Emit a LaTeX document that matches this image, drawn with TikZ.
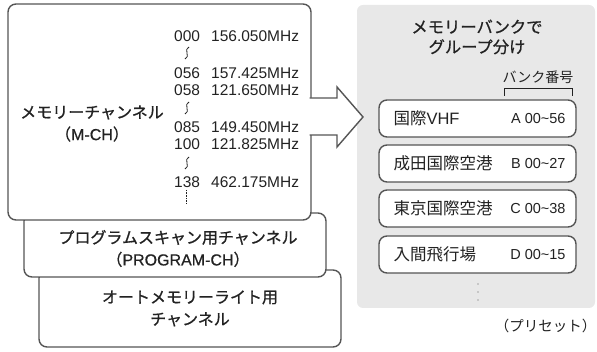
\documentclass[tikz,border=0pt]{standalone}
\usepackage{fontspec}
\setmainfont{Liberation Sans}
\newfontfamily\jp{Noto Sans CJK JP}
\newfontfamily\jpm[FakeBold=0.8]{Noto Sans CJK JP}
\newfontfamily\latm[FakeBold=0.6]{Liberation Sans}
\usetikzlibrary{positioning}
\definecolor{edgegray}{HTML}{555555}
\definecolor{panelgray}{HTML}{E8E8E8}
\definecolor{inkgray}{HTML}{222222}
\tikzset{
  chbox/.style={draw=edgegray,line width=1.4pt,rounded corners=8pt,fill=white,inner sep=0pt,text=inkgray},
  bankbox/.style={chbox,minimum width=197pt,minimum height=37pt},
  boxlabel/.style={text=inkgray,align=center,font=\fontsize{16}{22}\selectfont},
  chrow/.style={text=inkgray,inner sep=0pt,font=\fontsize{15.5}{18}\selectfont},
  banktext/.style={text=inkgray,inner sep=0pt,font=\fontsize{16.5}{18}\selectfont},
  bankcode/.style={text=inkgray,inner sep=0pt,font=\fontsize{14.5}{17}\selectfont}
}
\begin{document}
\begin{tikzpicture}[x=1pt,y=-1pt]
  \useasboundingbox (0,0) rectangle (597,352);
  % stacked channel boxes
  \node[chbox,minimum width=302pt,minimum height=77pt,boxlabel] (auto) at (190,308.5)
    {{\jpm オートメモリーライト用}\\{\jpm チャンネル}};
  \node[chbox,minimum width=302pt,minimum height=64pt] (prog) at (175,245) {};
  \node[boxlabel] (progtxt) at (178,248.5)
    {{\jpm プログラムスキャン用チャンネル}\\{\jpm （}{\latm PROGRAM-CH}{\jpm ）}};
  \node[chbox,minimum width=303pt,minimum height=216pt] (mch) at (159.5,112) {};
  \node[boxlabel] (mchtxt) at (92,123.5) {{\jpm メモリーチャンネル}\\{\jpm （}{\latm M-CH}{\jpm ）}};
  % channel list
  \foreach \yy/\num/\fq [count=\i] in {36/000/156.050,73/056/157.425,90/058/121.650,
      127/085/149.450,144/100/121.825,182/138/462.175}{
    \node[chrow,anchor=west] (n\i) at (174,\yy) {\num};
    \node[chrow,anchor=west] (f\i) at (211,\yy) {\fq MHz};
  }
  \foreach \yy in {53,108,163}
    \draw[inkgray,line width=0.8pt] (189,\yy-6) .. controls (183,\yy-4) and (191,\yy+4) .. (185,\yy+6);
  \draw[inkgray,line width=0.6pt,densely dotted] (186,190) -- (186,204);
  % memory bank panel
  \node[fill=panelgray,rounded corners=6pt,minimum width=238pt,minimum height=303pt] (panel) at (476,156.5) {};
  \node[text=inkgray,align=center,font=\fontsize{16.3}{20}\selectfont] (title) at (477,37)
    {{\jpm メモリーバンクで}\\{\jpm グループ分け}};
  \node[text=inkgray,inner sep=0pt,font=\fontsize{14}{16}\selectfont] (banklbl) at (538,77) {\jp バンク番号};
  \coordinate (brl) at (504,96);
  \coordinate (brr) at (572,96);
  \draw[inkgray,line width=0.9pt] (brl) -- ++(0,-8) -| (brr);
  \foreach \yy/\nm/\cd [count=\i] in {118.5/{{\jp 国際}VHF}/A,163.5/{\jp 成田国際空港}/B,
      208.5/{\jp 東京国際空港}/C,254.5/{\jp 入間飛行場}/D}{
    \node[bankbox] (bank\i) at (477.5,\yy) {};
    \node[banktext,anchor=west] (name\i) at ([xshift=15pt]bank\i.west) {\nm};
  }
  \node[bankcode,anchor=east] (code1) at ([xshift=-11pt]bank1.east) {A 00\textasciitilde56};
  \node[bankcode,anchor=east] (code2) at ([xshift=-11pt]bank2.east) {B 00\textasciitilde27};
  \node[bankcode,anchor=east] (code3) at ([xshift=-11pt]bank3.east) {C 00\textasciitilde38};
  \node[bankcode,anchor=east] (code4) at ([xshift=-11pt]bank4.east) {D 00\textasciitilde15};
  \foreach \yy in {284,292,300}
    \fill[gray!70] (478,\yy) circle (0.9pt);
  \node[text=inkgray,font=\fontsize{14.5}{16}\selectfont,anchor=east,inner sep=0pt] (preset) at (596.5,326) {\jp （プリセット）};
  % block arrow from channels to banks
  \draw[edgegray,line width=1.4pt,fill=white,line join=miter]
    (309.5,98) -- (337,98) -- (337,87) -- (363,117) -- (337,147) -- (337,135) -- (309.5,135);
\end{tikzpicture}
\end{document}
